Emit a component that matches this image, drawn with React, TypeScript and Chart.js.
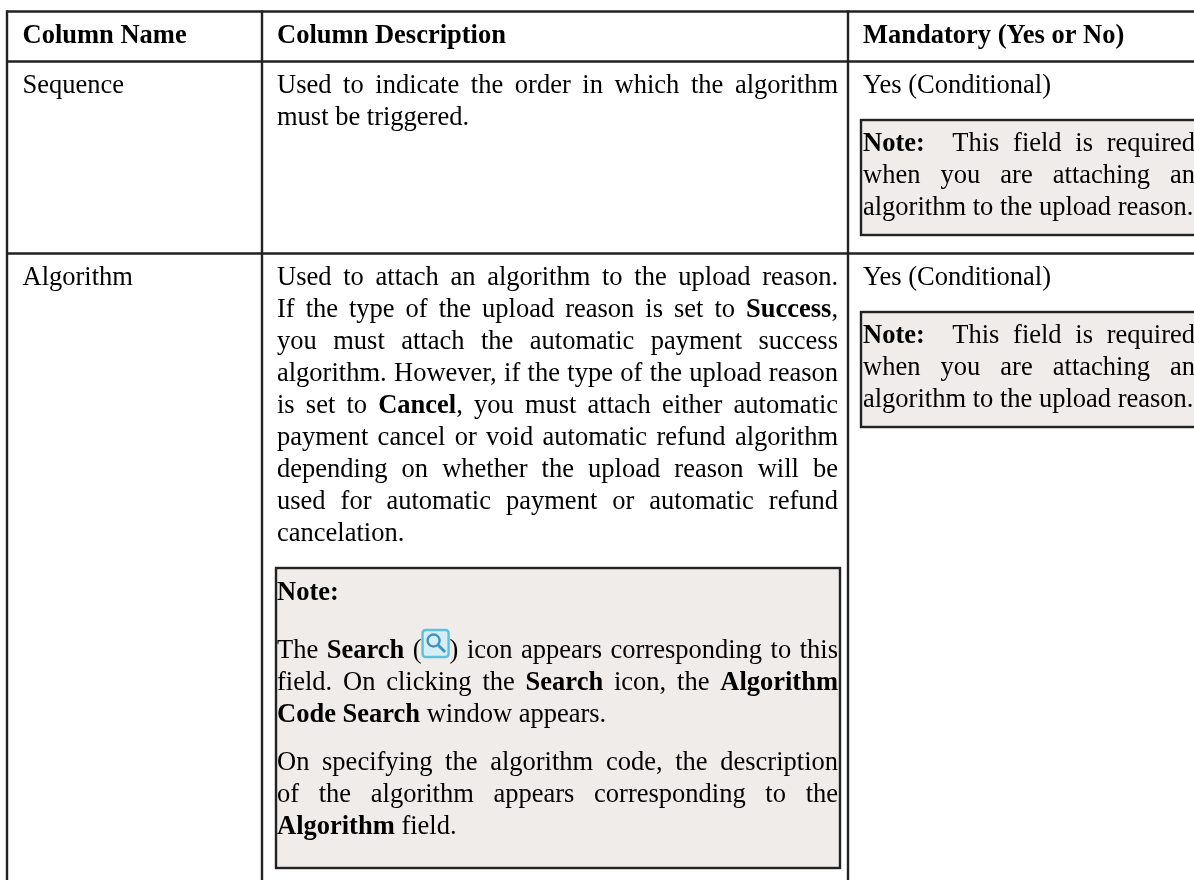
import React, { useEffect, useRef } from "react";
import { Chart, registerables } from "chart.js";

Chart.register(...registerables);

// Table content. **...** marks bold runs, {icon} marks the inline Search icon.
const headerCells = ["Column Name", "Column Description", "Mandatory (Yes or No)"];
const rowNames = ["Sequence", "Algorithm"];
const mandatoryValues = ["Yes (Conditional)", "Yes (Conditional)"];
const sequenceDescription = [
  "Used to indicate the order in which the algorithm",
  "must be triggered.",
];
const algorithmDescription = [
  "Used to attach an algorithm to the upload reason.",
  "If the type of the upload reason is set to **Success**,",
  "you must attach the automatic payment success",
  "algorithm. However, if the type of the upload reason",
  "is set to **Cancel**, you must attach either automatic",
  "payment cancel or void automatic refund algorithm",
  "depending on whether the upload reason will be",
  "used for automatic payment or automatic refund",
  "cancelation.",
];
const mandatoryNote = [
  "**Note:**  This field is required",
  "when you are attaching an",
  "algorithm to the upload reason.",
];
const algorithmNoteHead = ["**Note:**"];
const algorithmNoteFirst = [
  "The **Search** ({icon}) icon appears corresponding to this",
  "field. On clicking the **Search** icon, the **Algorithm**",
  "**Code Search** window appears.",
];
const algorithmNoteSecond = [
  "On specifying the algorithm code, the description",
  "of the algorithm appears corresponding to the",
  "**Algorithm** field.",
];

const FONT_SIZE = 26.5;
const LINE = 32;
const INK = "#000000";
const RULE = "#222222";
const NOTE_FILL = "#f0ecea";
const ICON_WIDTH = 28;

type Run = { text: string; bold: boolean };

function setFont(ctx: CanvasRenderingContext2D, bold: boolean) {
  ctx.font = `${bold ? "bold " : ""}${FONT_SIZE}px "Liberation Serif"`;
}

function drawIcon(ctx: CanvasRenderingContext2D, x: number, top: number) {
  ctx.save();
  ctx.fillStyle = "#d6eef7";
  ctx.strokeStyle = "#5cc0de";
  ctx.lineWidth = 2.4;
  ctx.beginPath();
  ctx.roundRect(x + 1, top + 1, 26, 27, 3);
  ctx.fill();
  ctx.stroke();
  ctx.strokeStyle = "#3f93bb";
  ctx.lineWidth = 2.4;
  ctx.beginPath();
  ctx.arc(x + 12, top + 11.5, 6, 0, Math.PI * 2);
  ctx.stroke();
  ctx.lineWidth = 2.8;
  ctx.beginPath();
  ctx.moveTo(x + 16.5, top + 16);
  ctx.lineTo(x + 23.5, top + 23);
  ctx.stroke();
  ctx.restore();
}

function drawLine(
  ctx: CanvasRenderingContext2D,
  line: string,
  x: number,
  baseline: number,
  right: number | null
) {
  // Break into words with their space counts, so a line can be justified.
  const tokens = line.split(/( +)/);
  const words: { runs: Run[]; width: number; spaces: number }[] = [];
  let bold = false;
  tokens.forEach((tok, i) => {
    if (i % 2 === 1) {
      if (words.length) words[words.length - 1].spaces = tok.length;
      return;
    }
    const parts = tok.split("**");
    const runs: Run[] = [];
    parts.forEach((p, j) => {
      if (j > 0) bold = !bold;
      if (p) runs.push({ text: p, bold });
    });
    let width = 0;
    runs.forEach((r) => {
      const segs = r.text.split("{icon}");
      setFont(ctx, r.bold);
      segs.forEach((s, k) => {
        if (k > 0) width += ICON_WIDTH;
        width += ctx.measureText(s).width;
      });
    });
    words.push({ runs, width, spaces: 0 });
  });
  setFont(ctx, false);
  const natural = ctx.measureText(" ").width;
  const totalSpaces = words.reduce((a, w) => a + w.spaces, 0);
  const totalWidth = words.reduce((a, w) => a + w.width, 0);
  const gap =
    right !== null && totalSpaces > 0 ? (right - x - totalWidth) / totalSpaces : natural;
  let cx = x;
  words.forEach((w) => {
    w.runs.forEach((r) => {
      setFont(ctx, r.bold);
      const segs = r.text.split("{icon}");
      segs.forEach((s, k) => {
        if (k > 0) {
          drawIcon(ctx, cx, baseline - 29);
          cx += ICON_WIDTH;
        }
        ctx.fillText(s, cx, baseline);
        cx += ctx.measureText(s).width;
      });
    });
    cx += gap * w.spaces;
  });
}

const tablePlugin = {
  id: "documentTable",
  afterDraw(chart: any) {
    const ctx: CanvasRenderingContext2D = chart.ctx;
    const px = (v: number) => chart.scales.x.getPixelForValue(v);
    const py = (v: number) => chart.scales.y.getPixelForValue(v);
    const hline = (x0: number, x1: number, y: number) => {
      ctx.beginPath();
      ctx.moveTo(px(x0), py(y));
      ctx.lineTo(px(x1), py(y));
      ctx.stroke();
    };
    const vline = (x: number, y0: number, y1: number) => {
      ctx.beginPath();
      ctx.moveTo(px(x), py(y0));
      ctx.lineTo(px(x), py(y1));
      ctx.stroke();
    };
    const noteBox = (x0: number, y0: number, x1: number, y1: number) => {
      ctx.fillStyle = NOTE_FILL;
      ctx.fillRect(px(x0), py(y0), px(x1) - px(x0), py(y1) - py(y0));
      ctx.strokeStyle = RULE;
      ctx.lineWidth = 2.4;
      ctx.strokeRect(px(x0), py(y0), px(x1) - px(x0), py(y1) - py(y0));
    };

    ctx.save();
    ctx.lineCap = "butt";
    ctx.fillStyle = "#ffffff";
    ctx.fillRect(0, 0, chart.width, chart.height);
    ctx.filter = "blur(0.35px)";

    noteBox(861, 120, 1210, 235);
    noteBox(861, 312, 1210, 427);
    noteBox(276, 568, 840, 868);

    ctx.strokeStyle = RULE;
    ctx.lineWidth = 2.4;
    hline(6, 1194, 11.5);
    hline(6, 1194, 61.5);
    hline(6, 1194, 253.5);
    vline(7, 10.5, 880);
    vline(262, 10.5, 880);
    vline(848, 10.5, 880);

    ctx.fillStyle = INK;
    ctx.textBaseline = "alphabetic";
    const colA = 22.5;
    const colB = 277;
    const colC = 863;
    const rightB = 838;
    const rightC = 1195;
    const block = (lines: string[], x: number, top: number, right: number) => {
      lines.forEach((l, i) => {
        const last = i === lines.length - 1;
        drawLine(ctx, l, px(x), py(top + i * LINE), last ? null : px(right));
      });
    };

    headerCells.forEach((h, i) =>
      drawLine(ctx, `**${h}**`, px([colA, colB, colC][i]), py(42.7), null)
    );
    [92.7, 285].forEach((y, i) => {
      drawLine(ctx, rowNames[i], px(colA), py(y), null);
      drawLine(ctx, mandatoryValues[i], px(colC), py(y), null);
    });
    block(sequenceDescription, colB, 92.7, rightB);
    block(algorithmDescription, colB, 285, rightB);
    [151.3, 343.3].forEach((y) => block(mandatoryNote, colC, y, rightC));
    block(algorithmNoteHead, colB, 599.5, rightB);
    block(algorithmNoteFirst, colB, 658, rightB);
    block(algorithmNoteSecond, colB, 770, rightB);
    ctx.restore();
  },
};

export default function App() {
  const ref = useRef<HTMLCanvasElement | null>(null);
  useEffect(() => {
    document.body.style.margin = "0";
    document.body.style.overflow = "hidden";
    const chart = new Chart(ref.current!, {
      type: "scatter",
      data: { datasets: [{ data: [] }] },
      options: {
        responsive: false,
        animation: false,
        layout: { padding: 0 },
        plugins: { legend: { display: false }, tooltip: { enabled: false }, title: { display: false } },
        scales: {
          x: { type: "linear", min: 0, max: 1194, display: false },
          y: { type: "linear", min: 0, max: 880, reverse: true, display: false },
        },
      },
      plugins: [tablePlugin],
    });
    return () => chart.destroy();
  }, []);
  return (
    <canvas
      ref={ref}
      width={1194}
      height={880}
      style={{ display: "block", width: 1194, height: 880 }}
    />
  );
}
